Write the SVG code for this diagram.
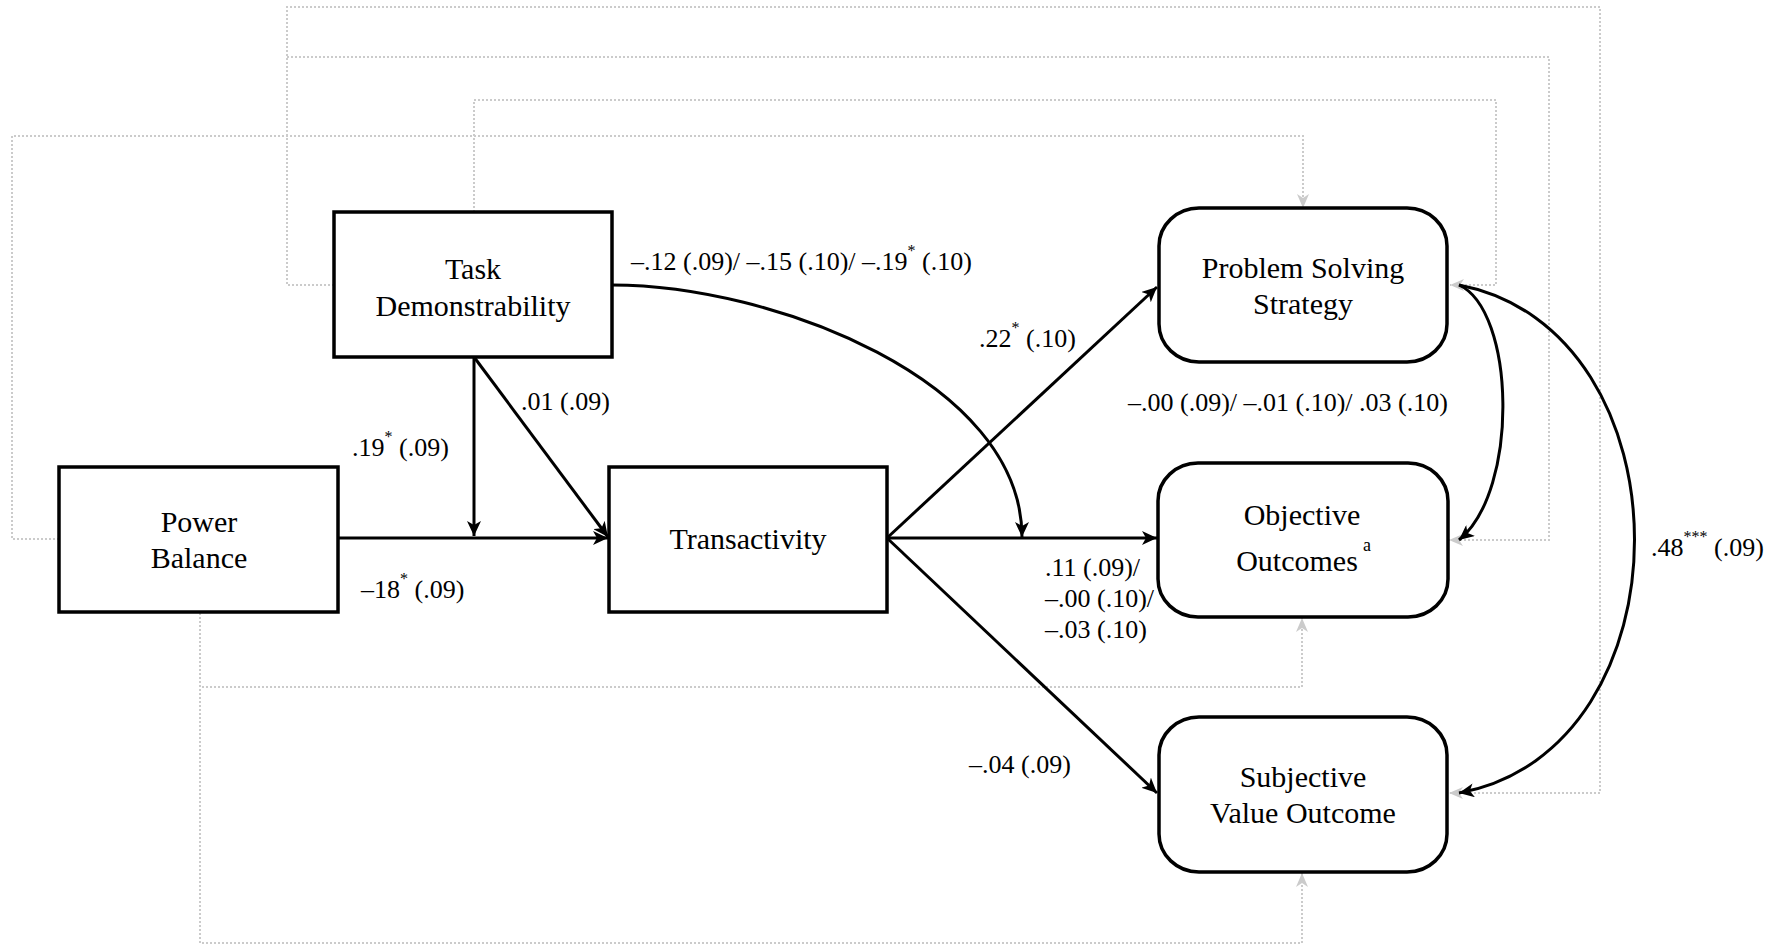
<svg xmlns="http://www.w3.org/2000/svg" width="1790" height="948" viewBox="0 0 1790 948">
<style>
.box{fill:#fff;stroke:#000;stroke-width:3.5}
.nt{font-family:"Liberation Serif","Times New Roman",serif;font-size:30px;fill:#000;text-anchor:middle}
.lb{font-family:"Liberation Serif","Times New Roman",serif;font-size:26px;fill:#000}
.sup{font-family:"Liberation Serif","Times New Roman",serif;font-size:18px;fill:#000}
.sol{fill:none;stroke:#000;stroke-width:3}
.dot{fill:none;stroke:#cbcbcb;stroke-width:2;stroke-dasharray:2 2}
</style>
<defs>
<marker id="ah" markerUnits="userSpaceOnUse" markerWidth="16" markerHeight="14" refX="15" refY="7" orient="auto"><path d="M0,0 L15,7 L0,14 L4,7 z" fill="#000"/></marker>
<marker id="gh" markerUnits="userSpaceOnUse" markerWidth="15" markerHeight="12" refX="14" refY="6" orient="auto"><path d="M0,0 L14,6 L0,12 L4,6 z" fill="#cbcbcb"/></marker>
</defs>
<rect width="1790" height="948" fill="#fff"/>
<g id="connectors">
<path class="dot" d="M474,212 V100 H1496 V285 H1450" marker-end="url(#gh)"/>
<path class="dot" d="M334,285 H287 V7 H1600 V793 H1449" marker-end="url(#gh)"/>
<path class="dot" d="M287,57 H1549 V540 H1449" marker-end="url(#gh)"/>
<path class="dot" d="M59,539 H12 V136 H1303 V208" marker-end="url(#gh)"/>
<path class="dot" d="M200,613 V687 H1302 V618" marker-end="url(#gh)"/>
<path class="dot" d="M200,613 V943 H1302 V873" marker-end="url(#gh)"/>
<path class="sol" d="M474,357 V536" marker-end="url(#ah)"/>
<path class="sol" d="M474,357 L608,537" marker-end="url(#ah)"/>
<path class="sol" d="M338,538 H608" marker-end="url(#ah)"/>
<path class="sol" d="M612,285 C772,285 1022,380 1022,537" marker-end="url(#ah)"/>
<path class="sol" d="M887,538 L1157,287" marker-end="url(#ah)"/>
<path class="sol" d="M887,538 H1157" marker-end="url(#ah)"/>
<path class="sol" d="M887,538 L1157,793" marker-end="url(#ah)"/>
<path class="sol" d="M1459,285 C1515,310 1520,490 1459,540" marker-end="url(#ah)"/>
<path class="sol" d="M1459,285 C1693,330 1693,750 1459,793" marker-end="url(#ah)"/>
</g>
<g id="labels">
<text class="lb" x="631" y="270">–.12 (.09)/ –.15 (.10)/ –.19<tspan font-size="16" dy="-14">*</tspan><tspan dy="14"> (.10)</tspan></text>
<text class="lb" x="979" y="347">.22<tspan font-size="16" dy="-14">*</tspan><tspan dy="14"> (.10)</tspan></text>
<text class="lb" x="521" y="410">.01 (.09)</text>
<text class="lb" x="352" y="456">.19<tspan font-size="16" dy="-14">*</tspan><tspan dy="14"> (.09)</tspan></text>
<text class="lb" x="361" y="598">–18<tspan font-size="16" dy="-14">*</tspan><tspan dy="14"> (.09)</tspan></text>
<text class="lb" x="1128" y="411">–.00 (.09)/ –.01 (.10)/ .03 (.10)</text>
<text class="lb" x="1045" y="576">.11 (.09)/</text>
<text class="lb" x="1045" y="607">–.00 (.10)/</text>
<text class="lb" x="1045" y="638">–.03 (.10)</text>
<text class="lb" x="969" y="773">–.04 (.09)</text>
<text class="lb" x="1651" y="556">.48<tspan font-size="16" dy="-14">***</tspan><tspan dy="14"> (.09)</tspan></text>
</g>
<g id="task">
<rect class="box" x="334" y="212" width="278" height="145"/>
<text class="nt" x="473" y="279">Task</text>
<text class="nt" x="473" y="316">Demonstrability</text>
</g>
<g id="power">
<rect class="box" x="59" y="467" width="279" height="145"/>
<text class="nt" x="199" y="532">Power</text>
<text class="nt" x="199" y="568">Balance</text>
</g>
<g id="transactivity">
<rect class="box" x="609" y="467" width="278" height="145"/>
<text class="nt" x="748" y="549">Transactivity</text>
</g>
<g id="pss">
<rect class="box" x="1159" y="208" width="288" height="154" rx="40" ry="38"/>
<text class="nt" x="1303" y="278">Problem Solving</text>
<text class="nt" x="1303" y="314">Strategy</text>
</g>
<g id="objective">
<rect class="box" x="1158" y="463" width="290" height="154" rx="40" ry="38"/>
<text class="nt" x="1302" y="525">Objective</text>
<text class="nt" x="1297" y="571">Outcomes</text>
<text class="sup" x="1363" y="551">a</text>
</g>
<g id="svo">
<rect class="box" x="1159" y="717" width="288" height="155" rx="40" ry="38"/>
<text class="nt" x="1303" y="787">Subjective</text>
<text class="nt" x="1303" y="823">Value Outcome</text>
</g>
</svg>
